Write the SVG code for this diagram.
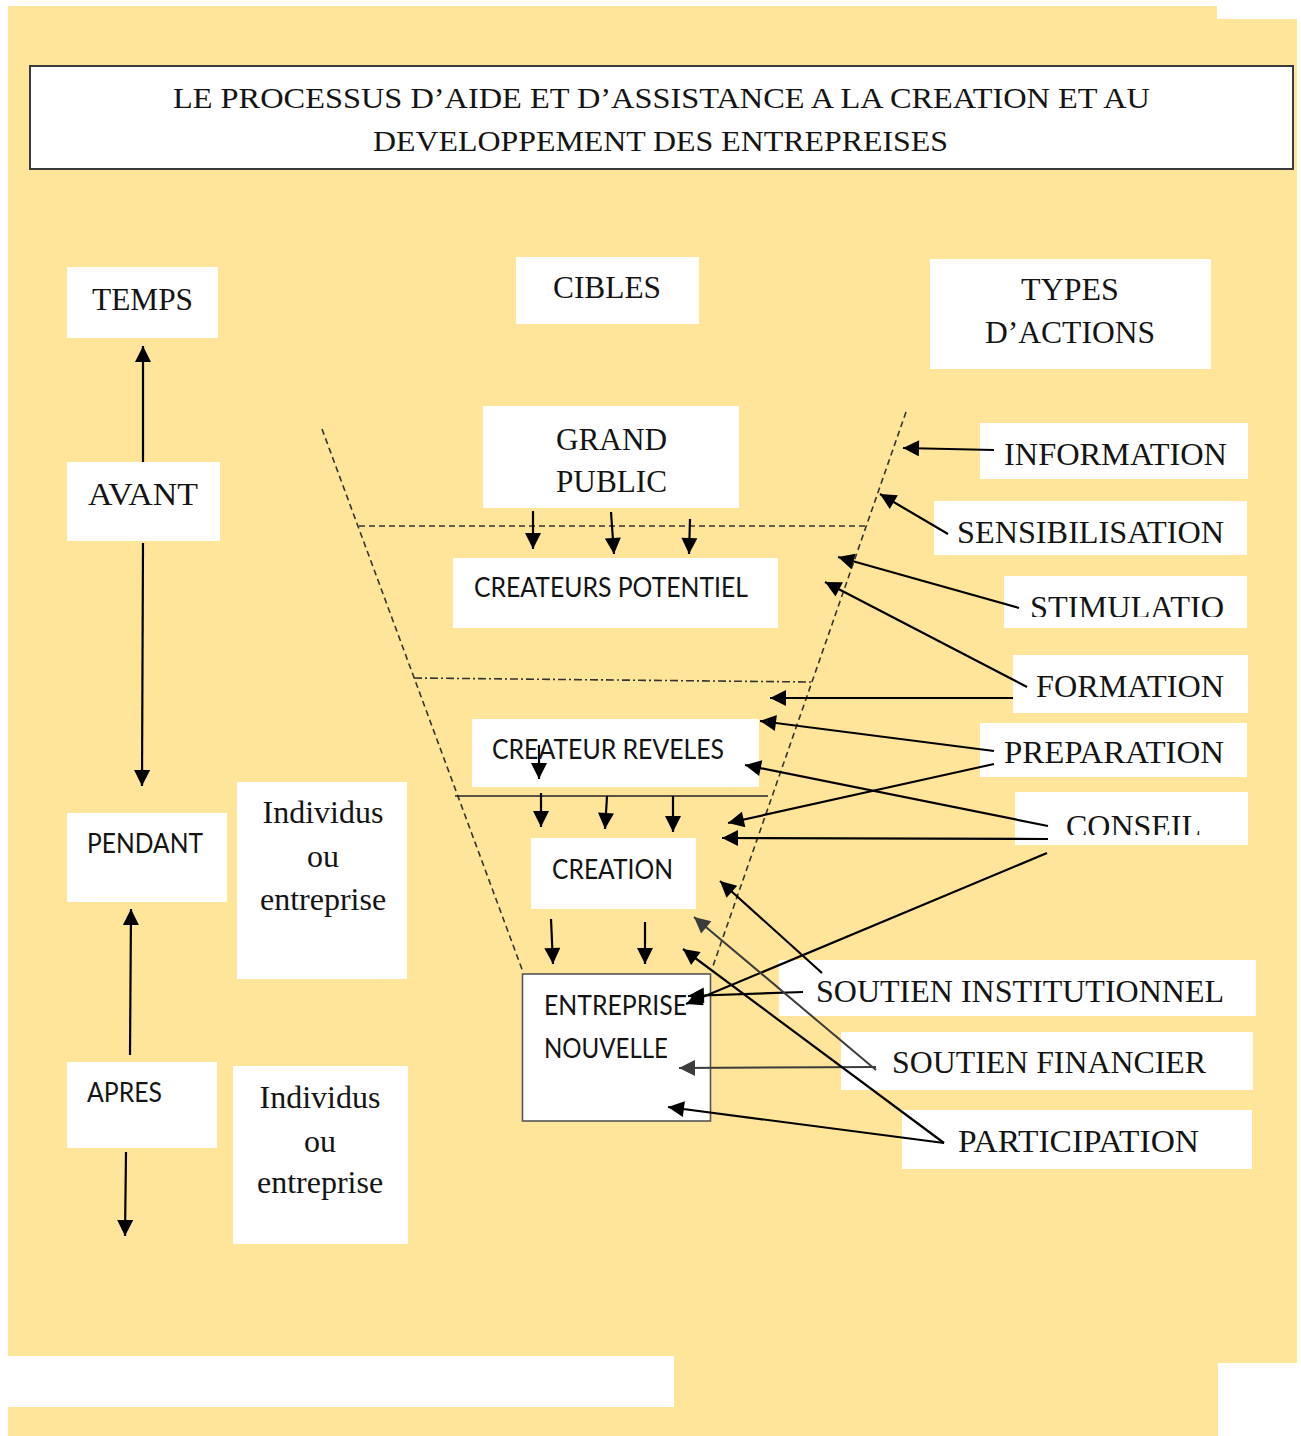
<svg xmlns="http://www.w3.org/2000/svg" width="1301" height="1436" viewBox="0 0 1301 1436">
  <style>
    .box { fill: #ffffff; }
    .serif { font-family: "Liberation Serif", "Times New Roman", serif; font-size: 32px; fill: #141414; }
    .sans { font-family: Lato, "Open Sans", "Liberation Sans", sans-serif; font-size: 26px; fill: #141414; }
    .title { font-family: "Liberation Serif", "Times New Roman", serif; font-size: 30px; fill: #141414; }
    .arr { stroke: #000; stroke-width: 2.2; fill: none; marker-end: url(#ah); }
    .arr-g { stroke: #3c3c3c; stroke-width: 2; fill: none; marker-end: url(#ahg); }
    .funnel { stroke: #333; stroke-width: 1.6; fill: none; stroke-dasharray: 6 4; }
  </style>
  <defs>
    <marker id="ah" viewBox="0 0 10 10" refX="10" refY="5" markerWidth="18" markerHeight="16" markerUnits="userSpaceOnUse" orient="auto">
      <path d="M0,0 L10,5 L0,10 z" fill="#000"/>
    </marker>
    <marker id="ahg" viewBox="0 0 10 10" refX="10" refY="5" markerWidth="18" markerHeight="16" markerUnits="userSpaceOnUse" orient="auto">
      <path d="M0,0 L10,5 L0,10 z" fill="#3c3c3c"/>
    </marker>
    <clipPath id="clipStim"><rect x="1000" y="570" width="260" height="47"/></clipPath>
    <clipPath id="clipCons"><rect x="1010" y="790" width="250" height="45"/></clipPath>
  </defs>

  <!-- page background -->
  <rect x="0" y="0" width="1301" height="1436" fill="#ffffff"/>
  <path d="M8,6 H1217 V19 H1297 V1363 H1218 V1436 H8 Z" fill="#FFE599"/>
  <rect x="8" y="1356" width="666" height="51" fill="#ffffff"/>

  <!-- title -->
  <g id="title">
    <rect x="30" y="66" width="1263" height="103" fill="#fff" stroke="#3a3a3a" stroke-width="2"/>
    <text class="title" x="173" y="108" textLength="977" lengthAdjust="spacingAndGlyphs">LE PROCESSUS D’AIDE ET D’ASSISTANCE A LA CREATION ET AU</text>
    <text class="title" x="373" y="151" textLength="575" lengthAdjust="spacingAndGlyphs">DEVELOPPEMENT DES ENTREPREISES</text>
  </g>

  <!-- funnel outline and stage separators -->
  <g id="funnel">
    <line class="funnel" x1="322" y1="429" x2="523" y2="972"/>
    <line class="funnel" x1="906" y1="412" x2="713" y2="966"/>
    <line class="funnel" x1="359" y1="526" x2="866" y2="526"/>
    <line x1="414" y1="678" x2="813" y2="682" stroke="#333" stroke-width="1.6" stroke-dasharray="8 3 2 3"/>
    <line x1="455" y1="796" x2="768" y2="796" stroke="#222" stroke-width="1.6"/>
  </g>

  <!-- time column -->
  <g id="temps">
    <rect class="box" x="67" y="267" width="151" height="71"/>
    <text class="serif" x="92" y="310" textLength="101" lengthAdjust="spacingAndGlyphs">TEMPS</text>
  </g>
  <g id="avant">
    <rect class="box" x="67" y="462" width="153" height="79"/>
    <text class="serif" x="88" y="505" textLength="110" lengthAdjust="spacingAndGlyphs">AVANT</text>
  </g>
  <g id="pendant">
    <rect class="box" x="67" y="813" width="160" height="89"/>
    <text class="sans" x="87" y="853" textLength="116" lengthAdjust="spacingAndGlyphs">PENDANT</text>
  </g>
  <g id="apres">
    <rect class="box" x="67" y="1062" width="150" height="86"/>
    <text class="sans" x="87" y="1102" textLength="75" lengthAdjust="spacingAndGlyphs">APRES</text>
  </g>
  <g id="individus-pendant">
    <rect class="box" x="237" y="782" width="170" height="197"/>
    <text class="serif" x="323" y="823" text-anchor="middle">Individus</text>
    <text class="serif" x="323" y="867" text-anchor="middle">ou</text>
    <text class="serif" x="323" y="910" text-anchor="middle">entreprise</text>
  </g>
  <g id="individus-apres">
    <rect class="box" x="233" y="1066" width="175" height="178"/>
    <text class="serif" x="320" y="1108" text-anchor="middle">Individus</text>
    <text class="serif" x="320" y="1152" text-anchor="middle">ou</text>
    <text class="serif" x="320" y="1193" text-anchor="middle">entreprise</text>
  </g>

  <!-- column headers -->
  <g id="cibles">
    <rect class="box" x="516" y="257" width="183" height="67"/>
    <text class="serif" x="553" y="298" textLength="108" lengthAdjust="spacingAndGlyphs">CIBLES</text>
  </g>
  <g id="types-actions">
    <rect class="box" x="930" y="259" width="281" height="110"/>
    <text class="serif" x="1070" y="300" text-anchor="middle">TYPES</text>
    <text class="serif" x="985" y="343" textLength="170" lengthAdjust="spacingAndGlyphs">D’ACTIONS</text>
  </g>

  <!-- targets -->
  <g id="grand-public">
    <rect class="box" x="483" y="406" width="256" height="102"/>
    <text class="serif" x="556" y="450" textLength="111" lengthAdjust="spacingAndGlyphs">GRAND</text>
    <text class="serif" x="556" y="492" textLength="111" lengthAdjust="spacingAndGlyphs">PUBLIC</text>
  </g>
  <g id="createurs-potentiel">
    <rect class="box" x="453" y="558" width="325" height="70"/>
    <text class="sans" x="474" y="597" textLength="274" lengthAdjust="spacingAndGlyphs">CREATEURS POTENTIEL</text>
  </g>
  <g id="createur-reveles">
    <rect class="box" x="472" y="719" width="287" height="68"/>
    <text class="sans" x="492" y="759" textLength="232" lengthAdjust="spacingAndGlyphs">CREATEUR REVELES</text>
  </g>
  <g id="creation">
    <rect class="box" x="531" y="838" width="165" height="71"/>
    <text class="sans" x="552" y="879" textLength="121" lengthAdjust="spacingAndGlyphs">CREATION</text>
  </g>
  <g id="entreprise-nouvelle">
    <rect x="522.5" y="974" width="188" height="147" fill="#fff" stroke="#555" stroke-width="1.6"/>
    <text class="sans" x="544" y="1015" textLength="143" lengthAdjust="spacingAndGlyphs">ENTREPRISE</text>
    <text class="sans" x="544" y="1058" textLength="124" lengthAdjust="spacingAndGlyphs">NOUVELLE</text>
  </g>

  <!-- action types -->
  <g id="information">
    <rect class="box" x="980" y="423" width="268" height="56"/>
    <text class="serif" x="1004" y="465" textLength="223" lengthAdjust="spacingAndGlyphs">INFORMATION</text>
  </g>
  <g id="sensibilisation">
    <rect class="box" x="934" y="501" width="313" height="54"/>
    <text class="serif" x="957" y="543" textLength="267" lengthAdjust="spacingAndGlyphs">SENSIBILISATION</text>
  </g>
  <g id="stimulation">
    <rect class="box" x="1004" y="576" width="243" height="52"/>
    <text class="serif" x="1030" y="618" textLength="194" lengthAdjust="spacingAndGlyphs" clip-path="url(#clipStim)">STIMULATIO</text>
  </g>
  <g id="formation">
    <rect class="box" x="1013" y="655" width="235" height="58"/>
    <text class="serif" x="1036" y="697" textLength="188" lengthAdjust="spacingAndGlyphs">FORMATION</text>
  </g>
  <g id="preparation">
    <rect class="box" x="980" y="723" width="267" height="54"/>
    <text class="serif" x="1004" y="763" textLength="220" lengthAdjust="spacingAndGlyphs">PREPARATION</text>
  </g>
  <g id="conseil">
    <rect class="box" x="1015" y="792" width="233" height="53"/>
    <text class="serif" x="1066" y="837" textLength="135" lengthAdjust="spacingAndGlyphs" clip-path="url(#clipCons)">CONSEIL</text>
  </g>
  <g id="soutien-institutionnel">
    <rect class="box" x="779" y="960" width="477" height="56"/>
    <text class="serif" x="816" y="1002" textLength="408" lengthAdjust="spacingAndGlyphs">SOUTIEN INSTITUTIONNEL</text>
  </g>
  <g id="soutien-financier">
    <rect class="box" x="841" y="1032" width="412" height="58"/>
    <text class="serif" x="892" y="1073" textLength="314" lengthAdjust="spacingAndGlyphs">SOUTIEN FINANCIER</text>
  </g>
  <g id="participation">
    <rect class="box" x="902" y="1110" width="350" height="59"/>
    <text class="serif" x="958" y="1152" textLength="241" lengthAdjust="spacingAndGlyphs">PARTICIPATION</text>
  </g>

  <!-- connectors -->
  <g id="connectors">
    <!-- time axis -->
    <line class="arr" x1="143" y1="462" x2="143" y2="346"/>
    <line class="arr" x1="143" y1="543" x2="142" y2="786"/>
    <line class="arr" x1="130" y1="1055" x2="131" y2="909"/>
    <line class="arr" x1="126" y1="1152" x2="125" y2="1236"/>

    <!-- flow through the funnel -->
    <line class="arr" x1="533" y1="511" x2="533" y2="549"/>
    <line class="arr" x1="611" y1="512" x2="614" y2="554"/>
    <line class="arr" x1="690" y1="519" x2="689" y2="554"/>
    <line class="arr" x1="539" y1="745" x2="539" y2="779"/>
    <line class="arr" x1="541" y1="793" x2="541" y2="827"/>
    <line class="arr" x1="607" y1="796" x2="605" y2="829"/>
    <line class="arr" x1="673" y1="796" x2="673" y2="832"/>
    <line class="arr" x1="551" y1="919" x2="553" y2="964"/>
    <line class="arr" x1="645" y1="922" x2="645" y2="964"/>

    <!-- actions towards targets -->
    <line class="arr" x1="994" y1="450" x2="903" y2="448"/>
    <line class="arr" x1="948" y1="534" x2="880" y2="494"/>
    <line class="arr" x1="1019" y1="608" x2="838" y2="557"/>
    <line class="arr" x1="1027" y1="687" x2="825" y2="582"/>
    <line class="arr" x1="1013" y1="698" x2="770" y2="698"/>
    <line class="arr" x1="994" y1="751" x2="760" y2="721"/>
    <line class="arr" x1="994" y1="764" x2="728" y2="823"/>
    <line class="arr" x1="1048" y1="826" x2="745" y2="765"/>
    <line class="arr" x1="1048" y1="839" x2="722" y2="838"/>
    <line class="arr" x1="1047" y1="853" x2="686" y2="1004"/>
    <line class="arr" x1="822" y1="973" x2="720" y2="881"/>
    <line class="arr" x1="803" y1="992" x2="688" y2="996"/>
    <line class="arr-g" x1="876" y1="1070" x2="694" y2="917"/>
    <line class="arr-g" x1="876" y1="1067" x2="679" y2="1068"/>
    <line class="arr" x1="944" y1="1143" x2="683" y2="949"/>
    <line class="arr" x1="944" y1="1143" x2="668" y2="1107"/>
  </g>
</svg>
